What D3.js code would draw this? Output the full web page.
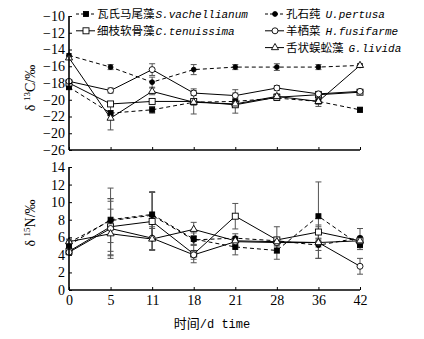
<!DOCTYPE html>
<html>
<head>
<meta charset="utf-8">
<script src="https://cdn.jsdelivr.net/npm/d3@7"></script>
<style>
body { margin: 0; background: #fff; }
svg { display: block; }
.axis path, .axis line { stroke: #000; }
.axis path { stroke-width: 1.6; }
.axis text { font-family: "Liberation Serif", serif; font-size: 14px; fill: #000; }
.cjk { font-family: "Noto Sans CJK SC", sans-serif; }
.lat { font-family: "Liberation Mono", monospace; }
</style>
</head>
<body>
<svg id="chart" width="424" height="339"></svg>
<script>
const days = ["0", "5", "11", "18", "21", "28", "36", "42"];

const cTicks = [-10, -12, -14, -16, -18, -20, -22, -24, -26];
// the original figure prints "-20" where -24 should be
const cTickLabels = ["−10", "−12", "−14", "−16", "−18", "−20", "−22", "−20", "−26"];
const nTicks = [0, 2, 4, 6, 8, 10, 12, 14];

const seriesNames = [
	["瓦氏马尾藻", "S.vachellianum"],
	["孔石莼", "U.pertusa"],
	["细枝软骨藻", "C.tenuissima"],
	["羊栖菜", "H.fusifarme"],
	["舌状蜈蚣藻", "G.livida"],
];

// delta 13C
const cVach = [-18.5, -21.6, -21.2, -20.3, -20.2, -19.8, -20.2, -21.2];
const cPert = [-14.7, -16.1, -17.9, -16.4, -16.1, -16.1, -16.1, -15.9];
const cTenu = [-18.0, -20.5, -20.2, -20.2, -20.6, -19.7, -19.4, -19.1];
const cFusi = [-17.8, -18.9, -16.4, -19.2, -19.5, -18.6, -19.3, -19.0];
const cLivi = [-15.0, -22.2, -19.0, -20.3, -20.5, -19.6, -20.2, -15.9];
const cVachErr = [0.2, 0.3, 0.4, 0.3, 1.4, 0.2, 0.6, 0.3];
const cPertErr = [0.2, 0.3, 0.6, 0.6, 0.3, 0.4, 0.3, 0.2];
const cTenuErr = [0.2, 0.2, 0.2, 1.5, 0.3, 0.3, 0.2, 0.2];
const cFusiErr = [0.2, 0.3, 0.7, 0.3, 0.3, 0.3, 0.3, 0.2];
const cLiviErr = [0.2, 1.4, 0.4, 0.3, 0.3, 0.3, 0.3, 0.2];

// delta 15N
const nVach = [5.1, 8.0, 8.6, 5.8, 4.9, 4.5, 8.4, 5.1];
const nPert = [5.4, 7.9, 8.5, 5.7, 5.9, 5.6, 5.1, 5.95];
const nTenu = [4.4, 7.2, 7.8, 4.1, 8.4, 5.7, 6.6, 5.6];
const nFusi = [4.3, 7.0, 5.9, 4.0, 5.5, 5.4, 5.4, 2.7];
const nLivi = [5.5, 6.4, 5.8, 6.9, 5.6, 5.5, 5.4, 5.6];
const nVachErr = [0.3, 3.6, 2.6, 0.7, 0.9, 1.0, 3.9, 0.5];
const nPertErr = [0.3, 2.5, 2.6, 0.5, 0.5, 0.3, 1.5, 1.05];
const nTenuErr = [0.3, 3.2, 3.3, 1.0, 1.45, 1.5, 0.8, 0.5];
const nFusiErr = [0.3, 3.1, 1.3, 0.5, 0.5, 0.4, 1.8, 0.9];
const nLiviErr = [0.3, 2.8, 1.2, 0.8, 0.5, 0.4, 0.5, 0.5];

const styles = [
	{ dash: "4,3", marker: "square", filled: true },
	{ dash: "4,3", marker: "circle", filled: true },
	{ dash: null, marker: "square", filled: false },
	{ dash: null, marker: "circle", filled: false },
	{ dash: null, marker: "triangle", filled: false },
];

const svg = d3.select("#chart");

const xScale = d3.scalePoint(days, [69, 360]);
const yC = d3.scaleLinear([-26, -10], [150, 16]);
const yN = d3.scaleLinear([0, 14], [290, 167]);

function drawMarker(g, kind, filled, x, y) {
	const fill = filled ? "#000" : "#fff";
	if (kind === "square") {
		const s = filled ? 5 : 6;
		g.append("rect")
			.attr("x", x - s / 2).attr("y", y - s / 2)
			.attr("width", s).attr("height", s)
			.attr("fill", fill).attr("stroke", "#000").attr("stroke-width", 0.9);
	} else if (kind === "circle") {
		g.append("circle")
			.attr("cx", x).attr("cy", y)
			.attr("r", filled ? 2.4 : 3)
			.attr("fill", fill).attr("stroke", "#000").attr("stroke-width", 0.9);
	} else {
		g.append("path")
			.attr("d", d3.symbol(d3.symbolTriangle, 22)())
			.attr("transform", `translate(${x},${y})`)
			.attr("fill", fill).attr("stroke", "#000").attr("stroke-width", 0.9);
	}
}

function drawPanel(yScale, allValues, allErrs, ticks, tickLabels, showX) {
	const g = svg.append("g");

	// error bars
	allValues.forEach((vals, si) => {
		const errs = allErrs[si];
		vals.forEach((v, i) => {
			const x = xScale(days[i]);
			const y1 = yScale(v - errs[i]);
			const y2 = yScale(v + errs[i]);
			g.append("line").attr("x1", x).attr("x2", x).attr("y1", y1).attr("y2", y2)
				.attr("stroke", "#555").attr("stroke-width", 1);
			[y1, y2].forEach(yy => {
				g.append("line").attr("x1", x - 3).attr("x2", x + 3).attr("y1", yy).attr("y2", yy)
					.attr("stroke", "#555").attr("stroke-width", 1);
			});
		});
	});

	const line = d3.line()
		.x((d, i) => xScale(days[i]))
		.y(d => yScale(d));

	allValues.forEach((vals, si) => {
		g.append("path")
			.datum(vals)
			.attr("d", line)
			.attr("fill", "none")
			.attr("stroke", "#000")
			.attr("stroke-width", 1)
			.attr("stroke-dasharray", styles[si].dash);
	});

	allValues.forEach((vals, si) => {
		vals.forEach((v, i) => {
			drawMarker(g, styles[si].marker, styles[si].filled, xScale(days[i]), yScale(v));
		});
	});

	const yAxis = d3.axisLeft(yScale)
		.tickValues(ticks)
		.tickSize(-3)
		.tickPadding(4)
		.tickFormat((d, i) => tickLabels[i]);
	svg.append("g")
		.attr("class", "axis")
		.attr("transform", "translate(69,0)")
		.call(yAxis)
		.call(a => a.select(".domain").attr("d", `M0,${yScale.range()[1]}V${yScale.range()[0]}`));

	const xAxis = d3.axisBottom(xScale)
		.tickSize(-3)
		.tickPadding(5)
		.tickFormat(showX ? d => d : () => "");
	svg.append("g")
		.attr("class", "axis")
		.attr("transform", `translate(0,${yScale.range()[0]})`)
		.call(xAxis)
		.call(a => a.select(".domain").attr("d", `M69,0H360`));
}

drawPanel(yC, [cVach, cPert, cTenu, cFusi, cLivi],
	[cVachErr, cPertErr, cTenuErr, cFusiErr, cLiviErr], cTicks, cTickLabels, false);
drawPanel(yN, [nVach, nPert, nTenu, nFusi, nLivi],
	[nVachErr, nPertErr, nTenuErr, nFusiErr, nLiviErr], nTicks, nTicks.map(String), true);

// legend
const legendPos = [
	{ x: 76, y: 14 },
	{ x: 265, y: 14 },
	{ x: 76, y: 30.8 },
	{ x: 265, y: 30.8 },
	{ x: 265, y: 47.6 },
];
const legend = svg.append("g");
seriesNames.forEach((nm, i) => {
	const p = legendPos[i];
	const s = styles[i];
	legend.append("line")
		.attr("x1", p.x).attr("x2", p.x + 19)
		.attr("y1", p.y).attr("y2", p.y)
		.attr("stroke", "#000").attr("stroke-width", 1)
		.attr("stroke-dasharray", s.dash ? "3,2" : null);
	drawMarker(legend, s.marker, s.filled, p.x + 10, p.y);
	const t = legend.append("text")
		.attr("x", p.x + 21).attr("y", p.y + 4.2)
		.attr("font-size", 11.5);
	t.append("tspan").attr("class", "cjk").text(nm[0]);
	t.append("tspan").attr("class", "lat").attr("font-style", "italic")
		.attr("font-size", 11).attr("dx", i === 0 || i === 2 ? 1 : 5).text(nm[1]);
});

// axis titles
function yTitle(cy, sup, el) {
	const t = svg.append("text")
		.attr("transform", `translate(35,${cy}) rotate(-90)`)
		.attr("text-anchor", "middle")
		.attr("font-family", "Liberation Serif, serif")
		.attr("font-size", 14);
	t.append("tspan").text("δ ");
	t.append("tspan").attr("font-size", 9).attr("dy", -5).text(sup);
	t.append("tspan").attr("dy", 5).text(el + "/‰");
}
yTitle(88, "13", "C");
yTitle(223, "15", "N");

const xt = svg.append("text")
	.attr("x", 212).attr("y", 328)
	.attr("text-anchor", "middle")
	.attr("font-size", 13);
xt.append("tspan").attr("class", "cjk").text("时间");
xt.append("tspan").attr("class", "lat").attr("font-size", 12).text("/d time");
</script>
</body>
</html>
